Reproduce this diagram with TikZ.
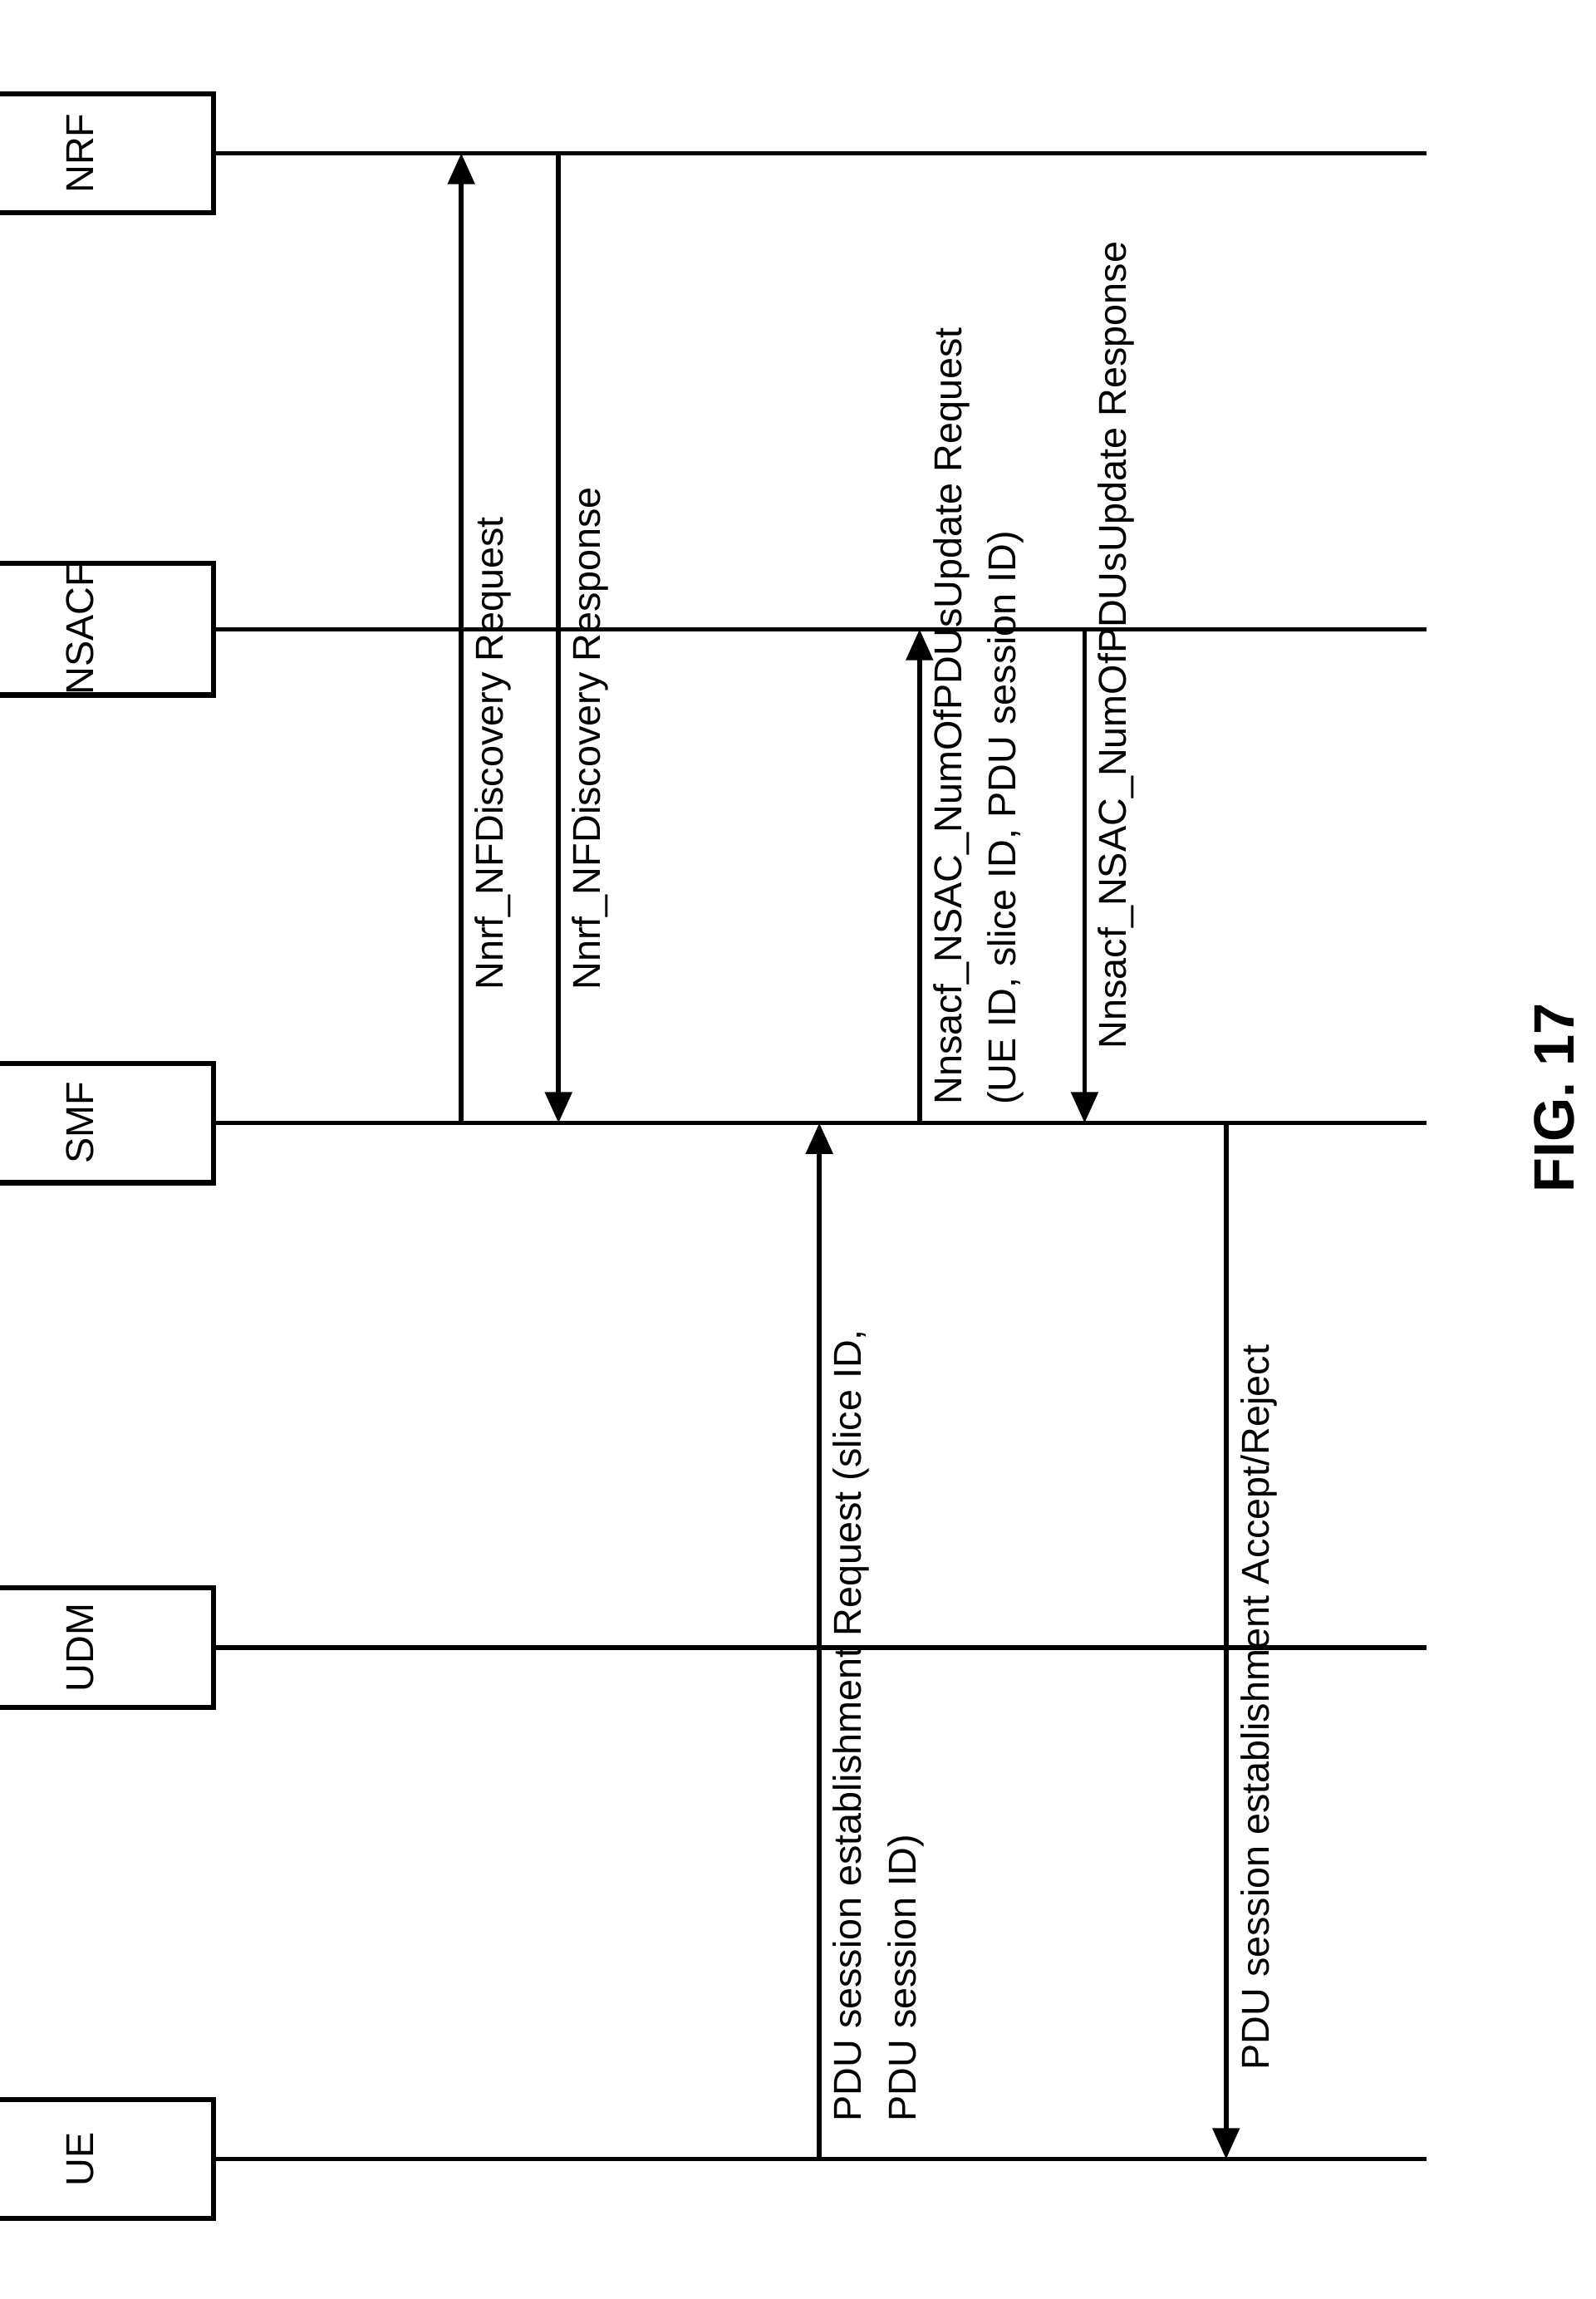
\documentclass[tikz,border=0pt]{standalone}
\usepackage{fontspec}
\setmainfont{Liberation Sans}
\usetikzlibrary{arrows.meta}
\begin{document}
\begin{tikzpicture}[x=0.02cm,y=-0.02cm,
  ent/.style={draw,line width=2pt,minimum width=81*0.02cm,minimum height=181*0.02cm,inner sep=0pt,rotate=90,font=\fontsize{15}{18}\selectfont},
  life/.style={line width=1.8pt},
  msg/.style={line width=1.8pt,-{Triangle[length=0.42cm,width=0.36cm]}},
  lab/.style={rotate=90,anchor=north west,align=left,inner sep=0pt,font=\fontsize{15}{21}\selectfont}]
\useasboundingbox (0,0) rectangle (1083,1560);
% entities
\node[ent] (nrf) at (54.5,104) {NRF};
\node[ent] (nsacf) at (54.5,427) {NSACF};
\node[ent] (smf) at (54.5,762) {SMF};
\node[ent] (udm) at (54.5,1118) {UDM};
\node[ent] (ue) at (54.5,1465) {UE};
\foreach \n/\y in {nrf/104,nsacf/427,smf/762,udm/1118,ue/1465}{
  \coordinate (\n-end) at (968,\y);
  \draw[life] (\n.south) -- (\n-end);
}
% message coordinates
\coordinate (a1) at (313,762); \coordinate (a2) at (313,104);
\coordinate (b1) at (379,104); \coordinate (b2) at (379,762);
\coordinate (c1) at (556,1465); \coordinate (c2) at (556,762);
\coordinate (d1) at (624,762); \coordinate (d2) at (624,427);
\coordinate (e1) at (736,427); \coordinate (e2) at (736,762);
\coordinate (f1) at (832,762); \coordinate (f2) at (832,1465);
\draw[msg] (a1) -- (a2);
\draw[msg] (b1) -- (b2);
\draw[msg] (c1) -- (c2);
\draw[msg] (d1) -- (d2);
\draw[msg] (e1) -- (e2);
\draw[msg] (f1) -- (f2);
% labels
\node[lab] (la) at (322,672) {Nnrf\_NFDiscovery Request};
\node[lab] (lb) at (388,672) {Nnrf\_NFDiscovery Response};
\node[lab] (lc) at (565,1440) {PDU session establishment Request (slice ID,\\PDU session ID)};
\node[lab] (ld) at (633,750) {Nnsacf\_NSAC\_NumOfPDUsUpdate Request\\(UE ID, slice ID, PDU session ID)};
\node[lab] (le) at (745,712) {Nnsacf\_NSAC\_NumOfPDUsUpdate Response};
\node[lab] (lf) at (842,1405) {PDU session establishment Accept/Reject};
\node[rotate=90,font=\fontsize{22}{26}\selectfont\bfseries] (fig) at (1055,745) {FIG. 17};
\end{tikzpicture}
\end{document}
